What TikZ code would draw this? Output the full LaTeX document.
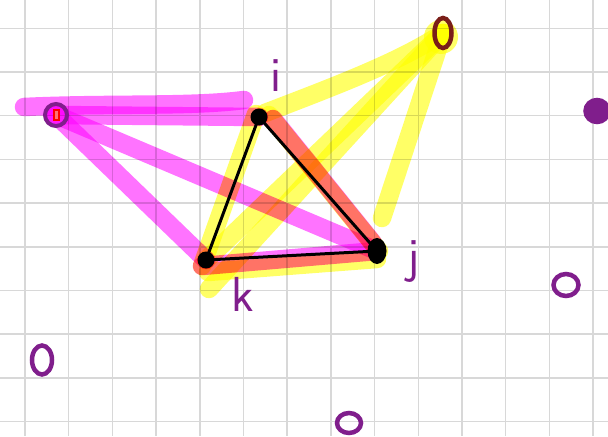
\documentclass[tikz,border=0pt]{standalone}
\usepackage{xcolor}
\usepackage{tikz}
\usetikzlibrary{positioning, shapes.geometric, backgrounds, calc}
\definecolor{hmag}{RGB}{255,0,255}
\definecolor{hyel}{RGB}{255,255,0}
\definecolor{ppurple}{RGB}{128,30,140}
\definecolor{pdred}{RGB}{122,30,24}
\definecolor{gridgray}{RGB}{216,216,216}
\pgfdeclarelayer{paper}
\pgfsetlayers{paper,background,main}

\begin{document}
\begin{tikzpicture}[
  x=0.02cm, y=-0.02cm,
  gridline/.style={gridgray, line width=0.03cm},
  magline/.style={hmag, opacity=0.55, line width=0.37cm, line cap=round},
  yelline/.style={hyel, opacity=0.6, line width=0.37cm, line cap=round},
  edge/.style={black, line width=0.06cm},
  vtx/.style={circle, fill=black, inner sep=0pt, minimum size=0.34cm},
  spot/.style={ellipse, draw=ppurple, line width=0.09cm, inner sep=0pt},
  lab/.style={ppurple, font=\fontsize{28}{28}\selectfont\sffamily}
]
\useasboundingbox (0,0) rectangle (608,436);

% ---- Triangle vertices ----
\node[vtx] (i) at (259,117) {};
\node[vtx] (k) at (206,260) {};
\node[vtx, ellipse, minimum width=0.38cm, minimum height=0.52cm] (j) at (377,251) {};

% ---- Marked points ----
\node[ellipse, draw=pdred, line width=0.09cm, inner sep=0pt,
      minimum width=0.34cm, minimum height=0.6cm] (o) at (443,33) {};
\node[circle, draw=ppurple, line width=0.08cm, inner sep=0pt, minimum size=0.44cm] (p) at (56,115) {};
\node[draw=red, fill=red!55, line width=0.04cm, inner sep=0pt,
      minimum width=0.1cm, minimum height=0.2cm] (pmark) at (p) {};

\node[spot, fill=ppurple, minimum width=0.46cm, minimum height=0.44cm] (q1) at (597,111) {};
\node[spot, minimum width=0.5cm, minimum height=0.44cm] (q2) at (566,285) {};
\node[spot, minimum width=0.4cm, minimum height=0.58cm] (q3) at (42,360) {};
\node[spot, minimum width=0.48cm, minimum height=0.4cm] (q4) at (349,423) {};

% ---- Labels ----
\node[lab] (li) at (276,76) {i};
\node[lab] (lj) at (414,262) {j};
\node[lab] (lk) at (243,294) {k};

% ---- Triangle ----
\draw[edge] (i.center) -- (k.center) -- (j.center) -- cycle;

% ---- Highlighter strokes ----
\coordinate (pw) at (24,107);
\coordinate (pe) at (244,100);
\coordinate (kb) at (209,289);
\coordinate (jt) at (382,218);
\begin{scope}[on background layer={blend mode=multiply}]
  \draw[yelline] (o.center) .. controls (400,62) and (330,88) .. ($(i.center)+(6,-4)$);
  \draw[yelline] (o.center) -- (k.center);
  \draw[yelline] (o.center) -- (kb);
  \draw[yelline] (o.center) -- (jt);
  \draw[yelline] ($(i.center)+(-3,-3)$) -- ($(k.center)+(-4,6)$);
  \draw[yelline] ($(i.center)+(10,-2)$) -- ($(j.center)+(2,0)$);
  \draw[yelline] ($(k.center)+(2,12)$) -- ($(j.center)+(0,8)$);
  \fill[hyel, opacity=0.6] ($(o.center)+(-2,4)$) circle[radius=0.34cm];

  \draw[magline] (pw) .. controls (110,103) and (190,107) .. (pe);
  \draw[magline] (p.center) -- (i.center);
  \draw[magline] (p.center) -- (j.center);
  \draw[magline] (p.center) -- (k.center);
  \draw[magline] ($(i.center)+(14,2)$) -- ($(j.center)+(-4,-8)$);
  \draw[magline] ($(k.center)+(-4,6)$) -- (j.center);
\end{scope}

% ---- Grid paper ----
\begin{pgfonlayer}{paper}
  \fill[white] (0,0) rectangle (608,436);
  \foreach \gx in {0,...,13}
    \draw[gridline] ({25+43.7*\gx},0) -- ({25+43.7*\gx},436);
  \foreach \gy in {0,...,9}
    \draw[gridline] (0,{28.3+43.7*\gy}) -- (608,{28.3+43.7*\gy});
\end{pgfonlayer}

\end{tikzpicture}
\end{document}
